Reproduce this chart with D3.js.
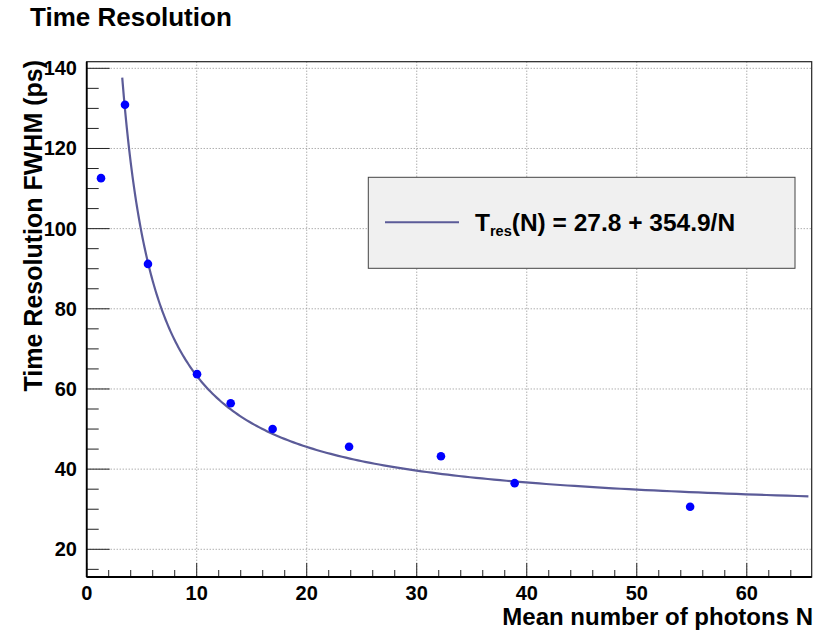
<!DOCTYPE html>
<html>
<head>
<meta charset="utf-8">
<script src="https://cdn.jsdelivr.net/npm/d3@7"></script>
<style>
  html, body { margin: 0; padding: 0; background: #fff; }
  svg { display: block; font-family: "Liberation Sans", Arial, Helvetica, sans-serif; font-weight: bold; }
</style>
</head>
<body>
<svg id="chart" width="827" height="630"></svg>
<script>
// ---- Data ----
const photonsN = [1.3, 3.48, 5.57, 10.03, 13.09, 16.9, 23.85, 32.2, 38.9, 54.85];
const timeResPs = [112.6, 130.9, 91.2, 63.7, 56.45, 50.0, 45.6, 43.2, 36.5, 30.6];
const fitParams = [27.8, 354.9];          // T_res(N) = a + b/N
const fitRange = [3.23, 65.6];
const xTicks = [0, 10, 20, 30, 40, 50, 60];
const yTicks = [20, 40, 60, 80, 100, 120, 140];
const titleText = "Time Resolution";
const xTitle = "Mean number of photons N";
const yTitle = "Time Resolution FWHM (ps)";

// ---- Layout ----
const svg = d3.select("#chart");
const L = 86.7, R = 811.7, T = 61.7, B = 577;
const x = d3.scaleLinear().domain([0, 65.9]).range([L, R]);
const y = d3.scaleLinear().domain([13.09, 141.65]).range([B, T]);
const curveColor = "#5b5b98";

// grid
const gx = svg.append("g");
gx.selectAll("line.vg").data(xTicks.filter(d => d > 0)).join("line")
  .attr("x1", d => x(d)).attr("x2", d => x(d)).attr("y1", T).attr("y2", B)
  .attr("stroke", "#8a8a8a").attr("stroke-width", 1).attr("stroke-dasharray", "1,2");
gx.selectAll("line.hg").data(yTicks).join("line")
  .attr("x1", L).attr("x2", R).attr("y1", d => y(d)).attr("y2", d => y(d))
  .attr("stroke", "#8a8a8a").attr("stroke-width", 1).attr("stroke-dasharray", "1,2");

// frame
svg.append("rect").attr("x", L).attr("y", T).attr("width", R - L).attr("height", B - T)
  .attr("fill", "none").attr("stroke", "#222").attr("stroke-width", 1.2);

// x axis (ticks pointing up)
const xMinor = d3.range(0, 66, 2);
svg.append("g").selectAll("line").data(xMinor).join("line")
  .attr("x1", d => x(d)).attr("x2", d => x(d))
  .attr("y1", B).attr("y2", d => B - (d % 10 === 0 ? 14 : 7))
  .attr("stroke", "#222").attr("stroke-width", 1);
svg.append("g").selectAll("text").data(xTicks).join("text")
  .attr("x", d => x(d)).attr("y", 600).attr("text-anchor", "middle")
  .attr("font-size", 20).attr("fill", "#000").text(d => d);

// y axis (ticks pointing right)
const yMinor = d3.range(15, 141, 5);
svg.append("g").selectAll("line").data(yMinor).join("line")
  .attr("x1", L).attr("x2", d => L + (d % 20 === 0 ? 23 : 12))
  .attr("y1", d => y(d)).attr("y2", d => y(d))
  .attr("stroke", "#222").attr("stroke-width", 1);
svg.append("g").selectAll("text").data(yTicks).join("text")
  .attr("x", 77).attr("y", d => y(d) + 7).attr("text-anchor", "end")
  .attr("font-size", 20).attr("fill", "#000").text(d => d);
svg.append("line").attr("x1", L).attr("x2", L).attr("y1", T).attr("y2", B)
  .attr("stroke", "#000").attr("stroke-width", 1.8);
svg.append("line").attr("x1", L).attr("x2", R).attr("y1", B).attr("y2", B)
  .attr("stroke", "#000").attr("stroke-width", 1.8);

// fit curve
const nSamples = d3.range(0, 201).map(i => fitRange[0] * Math.pow(fitRange[1] / fitRange[0], i / 200));
const fit = n => fitParams[0] + fitParams[1] / n;
svg.append("path").datum(nSamples)
  .attr("d", d3.line().x(n => x(n)).y(n => y(fit(n))).curve(d3.curveLinear))
  .attr("fill", "none").attr("stroke", curveColor).attr("stroke-width", 2.2);

// points
svg.append("g").selectAll("circle").data(photonsN).join("circle")
  .attr("cx", d => x(d)).attr("cy", (d, i) => y(timeResPs[i])).attr("r", 4.3)
  .attr("fill", "#0000ff");

// legend
const lg = svg.append("g");
lg.append("rect").attr("x", 368.3).attr("y", 177.3).attr("width", 426.7).attr("height", 91)
  .attr("fill", "#f0f0f0").attr("stroke", "#444").attr("stroke-width", 1);
lg.append("line").attr("x1", 385).attr("x2", 459).attr("y1", 222.3).attr("y2", 222.3)
  .attr("stroke", curveColor).attr("stroke-width", 2);
const lt = lg.append("text").attr("x", 475).attr("y", 230.5).attr("font-size", 24.5).attr("fill", "#000");
lt.append("tspan").text("T");
lt.append("tspan").attr("font-size", 14.5).attr("dy", 5.5).text("res");
lt.append("tspan").attr("dy", -5.5).text(`(N) = ${fitParams[0]} + ${fitParams[1]}/N`);

// titles
svg.append("text").attr("x", 30).attr("y", 26).attr("font-size", 26).attr("fill", "#000").text(titleText);
svg.append("text").attr("x", 813).attr("y", 625).attr("text-anchor", "end")
  .attr("font-size", 24).attr("fill", "#000").text(xTitle);
svg.append("text").attr("transform", "translate(42,60) rotate(-90)").attr("text-anchor", "end")
  .attr("font-size", 25).attr("fill", "#000").text(yTitle);
</script>
</body>
</html>
